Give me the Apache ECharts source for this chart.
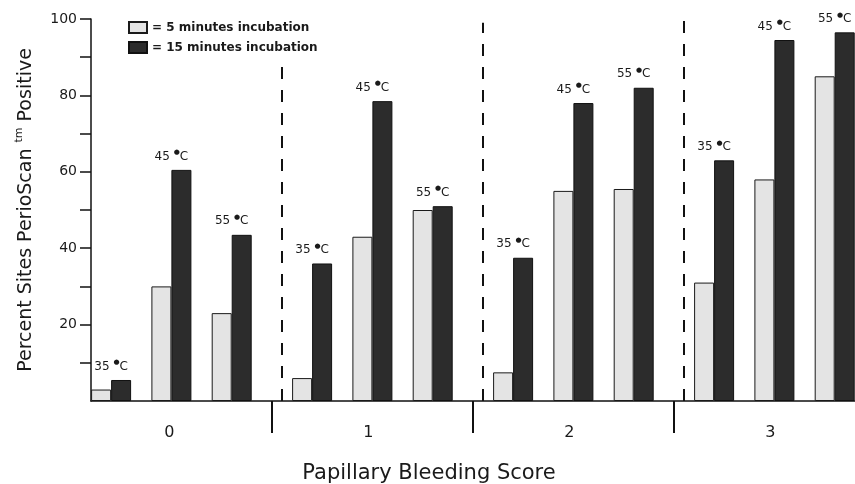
<!DOCTYPE html>
<html>
<head>
<meta charset="utf-8">
<script src="https://cdn.jsdelivr.net/npm/echarts@6/dist/echarts.min.js"></script>
<style>
  html, body { margin: 0; padding: 0; background: #ffffff; }
  #chart { width: 855px; height: 484px; }
</style>
</head>
<body>
<div id="chart"></div>
<script>
// ---- data ----
const categories = ['0', '1', '2', '3'];          // Papillary Bleeding Score
const temperatures = ['35', '45', '55'];          // incubation temperature (°C)
const seriesNames = ['5 minutes incubation', '15 minutes incubation'];
// values per score group, in order 35, 45, 55 °C
const fiveMinutes    = [3, 30, 23,   6, 43, 50,   7.5, 55, 55.5,   31, 58, 85];
const fifteenMinutes = [5.5, 60.5, 43.5,   36, 78.5, 51,   37.5, 78, 82,   63, 94.5, 96.5];
const yTickValues = [10, 20, 30, 40, 50, 60, 70, 80, 90, 100];
const yLabelValues = [20, 40, 60, 80, 100];

// ---- layout helpers (positions on the hidden x scale) ----
const GROUP_SPAN = 10, PAIR_SPAN = 3;
function pairX(i) {
  const g = Math.floor(i / 3), t = i % 3;
  return g * GROUP_SPAN + t * PAIR_SPAN + 1;
}
const separatorX = [9, 19, 29];
const separatorTop = [89, 99, 100];
const labelX = [3.9, 13.8, 23.8, 33.8];

const lightData = fiveMinutes.map((v, i) => [pairX(i), v]);
const darkData = fifteenMinutes.map((v, i) => [pairX(i), v]);

const FONT = 'DejaVu Sans';
const chart = echarts.init(document.getElementById('chart'), null, { renderer: 'canvas' });

chart.setOption({
  backgroundColor: '#ffffff',
  animation: false,
  grid: { left: 91, top: 19, width: 804, height: 382, outerBoundsMode: 'none' },
  legend: {
    orient: 'vertical',
    left: 128,
    top: 21,
    padding: 0,
    itemWidth: 18,
    itemHeight: 11,
    itemGap: 7,
    icon: 'rect',
    data: seriesNames,
    formatter: name => '= ' + name,
    textStyle: { fontFamily: FONT, fontSize: 12, fontWeight: 'bold', color: '#1a1a1a', lineHeight: 13 }
  },
  xAxis: {
    type: 'value',
    min: 0,
    max: 40,
    axisLine: { show: true, lineStyle: { color: '#111', width: 1.5 } },
    axisTick: { show: true, customValues: separatorX, length: 32, lineStyle: { color: '#111', width: 2 } },
    axisLabel: {
      show: true,
      customValues: labelX,
      formatter: v => categories[Math.floor(v / GROUP_SPAN)],
      margin: 24,
      fontFamily: FONT,
      fontSize: 16,
      color: '#1a1a1a'
    },
    splitLine: { show: false }
  },
  yAxis: {
    type: 'value',
    min: 0,
    max: 100,
    interval: 10,
    axisLine: { show: true, lineStyle: { color: '#111', width: 1.5 } },
    axisTick: { show: true, customValues: yTickValues, length: 11, lineStyle: { color: '#111', width: 1.5 } },
    axisLabel: {
      customValues: yLabelValues,
      margin: 14,
      fontFamily: FONT,
      fontSize: 14,
      color: '#1a1a1a'
    },
    splitLine: { show: false }
  },
  series: [
    {
      name: seriesNames[0],
      type: 'bar',
      barWidth: 20,
      barGap: '0%',
      data: lightData,
      itemStyle: { color: '#e4e4e4', borderColor: '#1a1a1a', borderWidth: 1 }
    },
    {
      name: seriesNames[1],
      type: 'bar',
      barWidth: 20,
      barGap: '0%',
      data: darkData,
      itemStyle: { color: '#2c2c2c', borderColor: '#111', borderWidth: 1 },
      label: {
        show: true,
        position: 'top',
        distance: 6,
        offset: [-10, 0],
        formatter: p => '{t|' + temperatures[p.dataIndex % 3] + ' }{d|●}{t|C}',
        rich: {
          t: { fontFamily: FONT, fontSize: 12, color: '#1a1a1a', lineHeight: 15 },
          d: { fontFamily: FONT, fontSize: 7, color: '#1a1a1a', lineHeight: 8, verticalAlign: 'top' }
        }
      },
      markLine: {
        silent: true,
        symbol: 'none',
        label: { show: false },
        lineStyle: { color: '#111', width: 2, type: [12, 11] },
        data: separatorX.map((x, i) => [{ coord: [x, 0] }, { coord: [x, separatorTop[i]] }])
      }
    }
  ],
  graphic: [
    {
      type: 'text',
      x: 429,
      y: 474,
      style: {
        text: 'Papillary Bleeding Score',
        fontFamily: FONT,
        fontSize: 21,
        fill: '#1a1a1a',
        align: 'center',
        verticalAlign: 'middle'
      }
    },
    {
      type: 'text',
      x: 26,
      y: 210,
      rotation: Math.PI / 2,
      style: {
        text: '{m|Percent Sites PerioScan }{s|tm}{m| Positive}',
        align: 'center',
        verticalAlign: 'middle',
        rich: {
          m: { fontFamily: FONT, fontSize: 19, fill: '#1a1a1a', lineHeight: 24 },
          s: { fontFamily: FONT, fontSize: 11, fill: '#1a1a1a', lineHeight: 11, verticalAlign: 'top' }
        }
      }
    }
  ]
});
</script>
</body>
</html>
